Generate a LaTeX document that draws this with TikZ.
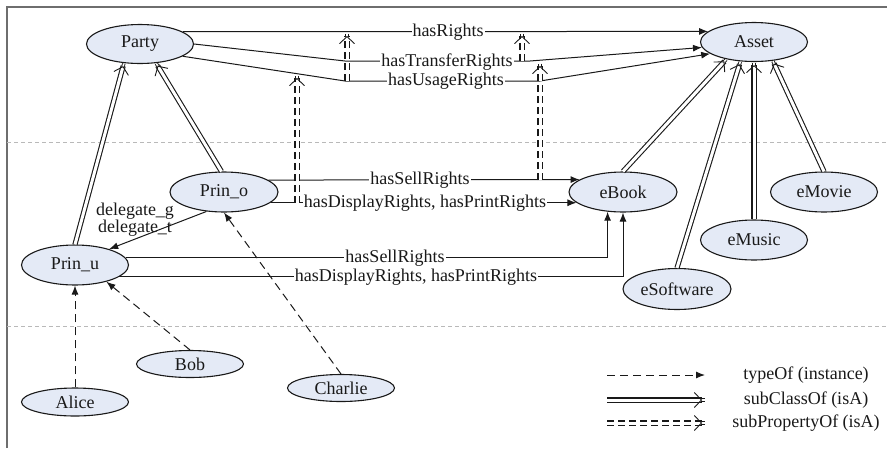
\documentclass[tikz,border=0pt]{standalone}
\usepackage{fontspec}
\setmainfont{Liberation Serif}
\usetikzlibrary{arrows.meta,shapes.geometric,decorations.markings}
\definecolor{nodefill}{RGB}{228,234,246}
\definecolor{ink}{RGB}{25,25,25}
\definecolor{framecol}{RGB}{110,110,110}
\begin{document}
\begin{tikzpicture}[x=1pt,y=-1pt,
  font=\fontsize{18}{20}\selectfont,
  cls/.style={ellipse, draw=ink, fill=nodefill, line width=1.1pt,
    minimum width=107pt, minimum height=39pt, inner sep=0pt, text=ink},
  inst/.style={cls, minimum height=27pt},
  rel/.style={draw=ink, line width=1pt, -{Latex[length=9pt,width=7pt]}},
  lbl/.style={fill=white, inner sep=1pt, text=ink},
  typeof/.style={rel, dash pattern=on 8pt off 5pt},
  openhead/.style={postaction={decorate, decoration={markings,
    mark=at position 1 with {\draw[ink, solid, line width=0.9pt, double=white, double distance=1.6pt,
      -{Straight Barb[length=7pt,width=15pt]}] (-0.5pt,0) -- (0,0);}}}},
  subcls/.style={draw=ink, line width=1.1pt, double=white, double distance=3pt,
    shorten >=3pt, openhead},
  subprop/.style={subcls, dash pattern=on 7pt off 4pt},
  divider/.style={draw=gray!55, line width=0.8pt, dash pattern=on 4pt off 3pt},
  legendtext/.style={text=ink, anchor=center}]
\useasboundingbox (0,0) rectangle (887,448);

% frame and layer separators
\draw[framecol, line width=1.4pt] (7,448) -- (7,7) -- (887,7);
\draw[divider] (7,142) -- (887,142);
\draw[divider] (7,326) -- (887,326);

% classes and instances
\node[cls] (Party) at (140,44) {Party};
\node[cls] (Asset) at (754,42) {Asset};
\node[cls, minimum width=108pt, minimum height=40pt] (PrinO) at (224,192) {Prin\_o};
\node[cls, minimum height=40pt] (PrinU) at (75,265) {Prin\_u};
\node[cls, minimum width=108pt, minimum height=40pt] (eBook) at (623,192) {eBook};
\node[cls, minimum height=40pt] (eMovie) at (824,192) {eMovie};
\node[cls, minimum height=40pt] (eMusic) at (754,240) {eMusic};
\node[cls, minimum width=108pt, minimum height=41pt] (eSoftware) at (677,289) {eSoftware};
\node[inst] (Bob) at (190,364) {Bob};
\node[inst, minimum height=28pt] (Alice) at (75,402) {Alice};
\node[inst] (Charlie) at (341,388) {Charlie};

% bend points of the rights properties
\coordinate (trA) at (345,61);
\coordinate (trB) at (530,61);
\coordinate (usA) at (345,81);
\coordinate (usB) at (540,81);

% rights properties between Party and Asset
\draw[rel] (Party.16) -- (Asset.167);
\draw[rel] (Party.east) -- (trA) -- (trB) -- (Asset.186);
\draw[rel] (Party.-16) -- (usA) -- (usB) -- (Asset.195);

% rights of the principals on eBook
\draw[rel] (PrinO.15.5) -- (eBook.164.5);
\draw[rel] (PrinO.-13.7) -- (eBook.193.7);
\draw[rel] (PrinU.8) -| (eBook.-128);
\draw[rel] (PrinU.-15.7) -| (eBook.south);

% sub-property links
\coordinate (sp1a) at (297,203); \coordinate (sp1b) at (297,75);
\coordinate (sp2a) at (540,180); \coordinate (sp2b) at (540,63);
\coordinate (sp3a) at (347,81);  \coordinate (sp3b) at (347,33);
\coordinate (sp4a) at (522,61);  \coordinate (sp4b) at (522,33);
\draw[subprop] (sp1a) -- (sp1b);
\draw[subprop] (sp2a) -- (sp2b);
\draw[subprop] (sp3a) -- (sp3b);
\draw[subprop] (sp4a) -- (sp4b);

% property labels
\node[lbl] (lRights)   at (448,32)  {hasRights};
\node[lbl] (lTransfer) at (447,62)  {hasTransferRights};
\node[lbl] (lUsage)    at (446,81)  {hasUsageRights};
\node[lbl] (lSellO)    at (420,180) {hasSellRights};
\node[lbl] (lDispO)    at (425,203) {hasDisplayRights, hasPrintRights};
\node[lbl] (lSellU)    at (395,258) {hasSellRights};
\node[lbl] (lDispU)    at (416,277) {hasDisplayRights, hasPrintRights};

% delegation
\draw[rel] (PrinO.-132) -- (PrinU.25);
\node[text=ink, align=center, inner sep=0pt, font=\fontsize{18}{16}\selectfont] (lDeleg) at (135,220) {delegate\_g\\delegate\_t};

% subclass links
\draw[subcls] (PrinU.north) -- (Party.-130);
\draw[subcls] (PrinO.97) -- (Party.-50);
\draw[subcls] (eBook.north) -- (Asset.-148);
\draw[subcls] (eSoftware.north) -- (Asset.-125);
\draw[subcls] (eMusic.north) -- (Asset.south);
\draw[subcls] (eMovie.north) -- (Asset.-45);

% instance links
\draw[typeof] (Alice.north) -- (PrinU.south);
\draw[typeof] (Bob.north) -- (PrinU.-28);
\draw[typeof] (Charlie.north) -- (PrinO.south);

% legend
\coordinate (lgA1) at (607,375); \coordinate (lgB1) at (705,375);
\coordinate (lgA2) at (607,400); \coordinate (lgB2) at (705,400);
\coordinate (lgA3) at (607,423); \coordinate (lgB3) at (705,423);
\draw[typeof] (lgA1) -- (lgB1);
\draw[subcls] (lgA2) -- (lgB2);
\draw[subprop] (lgA3) -- (lgB3);
\node[legendtext] (lgT1) at (806,375) {typeOf (instance)};
\node[legendtext] (lgT2) at (806,400) {subClassOf (isA)};
\node[legendtext] (lgT3) at (806,423) {subPropertyOf (isA)};
\end{tikzpicture}
\end{document}
